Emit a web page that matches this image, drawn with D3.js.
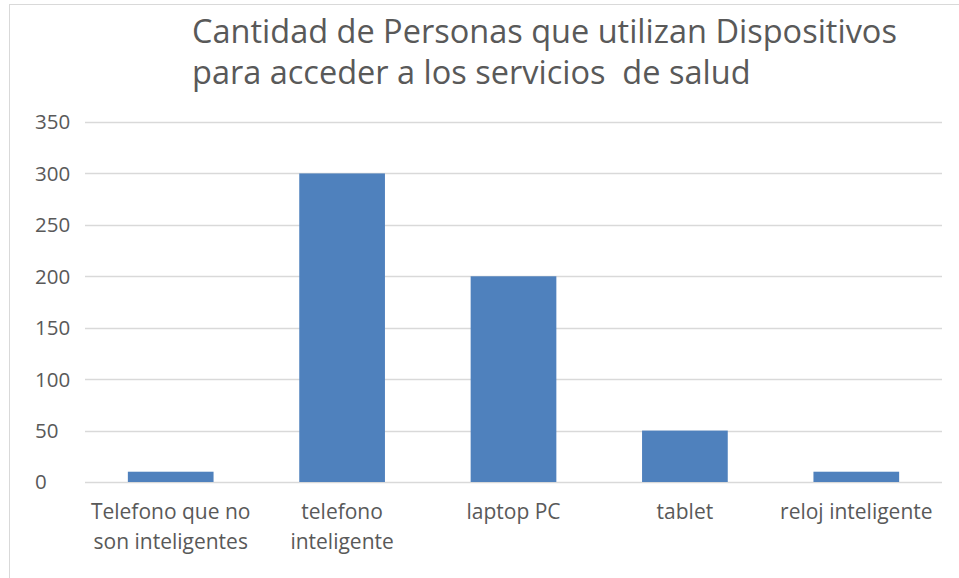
<!DOCTYPE html>
<html>
<head>
<meta charset="utf-8">
<script src="https://d3js.org/d3.v7.min.js"></script>
<style>
  body { margin: 0; background: #fff; }
  text { font-family: "Open Sans", sans-serif; fill: #595959; white-space: pre; }
</style>
</head>
<body>
<script>

// data
var categories = ["Telefono que no|son inteligentes", "telefono|inteligente", "laptop PC", "tablet", "reloj inteligente"];
var values = [10, 300, 200, 50, 10];
var yTicks = [0, 50, 100, 150, 200, 250, 300, 350];
var titleLines = ["Cantidad de Personas que utilizan Dispositivos", "para acceder a los servicios  de salud"];

var W = 959, H = 578;
var plot = {left: 85, right: 942, top: 122, bottom: 482};

var svg = d3.select("body").append("svg")
    .attr("width", W)
    .attr("height", H);

// chart border (only top/left visible in the crop)
svg.append("rect")
    .attr("x", 9.5).attr("y", 4.5)
    .attr("width", 1000).attr("height", 1000)
    .attr("fill", "#fff")
    .attr("stroke", "#d9d9d9");

var x = d3.scaleBand()
    .domain(categories)
    .range([plot.left, plot.right])
    .paddingInner(0.5)
    .paddingOuter(0.25);

var y = d3.scaleLinear()
    .domain([0, 350])
    .range([plot.bottom, plot.top]);

// gridlines
svg.append("g")
  .selectAll("line")
  .data(yTicks)
  .join("line")
    .attr("x1", plot.left).attr("x2", plot.right)
    .attr("y1", function(d) { return Math.round(y(d)) + 0.5; })
    .attr("y2", function(d) { return Math.round(y(d)) + 0.5; })
    .attr("stroke", "#d9d9d9")
    .attr("stroke-width", 1.3);

// y labels (left aligned like the original)
svg.append("g")
  .selectAll("text")
  .data(yTicks)
  .join("text")
    .attr("x", 35)
    .attr("y", function(d) { return y(d); })
    .attr("dy", "0.36em")
    .style("font-size", "20.5px")
    .text(function(d) { return d; });

// bars
svg.append("g")
  .selectAll("rect")
  .data(values)
  .join("rect")
    .attr("x", function(d, i) { return x(categories[i]); })
    .attr("width", x.bandwidth())
    .attr("y", function(d) { return y(d); })
    .attr("height", function(d) { return y(0) - y(d); })
    .attr("fill", "#4f81bd");

// category labels
var cat = svg.append("g")
  .selectAll("text")
  .data(categories)
  .join("text")
    .attr("text-anchor", "middle")
    .style("font-size", "21px")
    .attr("transform", function(d) { return "translate(" + (x(d) + x.bandwidth() / 2) + ",519)"; });

cat.selectAll("tspan")
  .data(function(d) { return d.split("|"); })
  .join("tspan")
    .attr("x", 0)
    .attr("y", function(d, i) { return i * 30; })
    .text(function(d) { return d; });

// title
svg.append("g")
  .selectAll("text")
  .data(titleLines)
  .join("text")
    .attr("x", 192)
    .attr("y", function(d, i) { return 43 + i * 41; })
    .style("font-size", "32.5px")
    .text(function(d) { return d; });

</script>
</body>
</html>
